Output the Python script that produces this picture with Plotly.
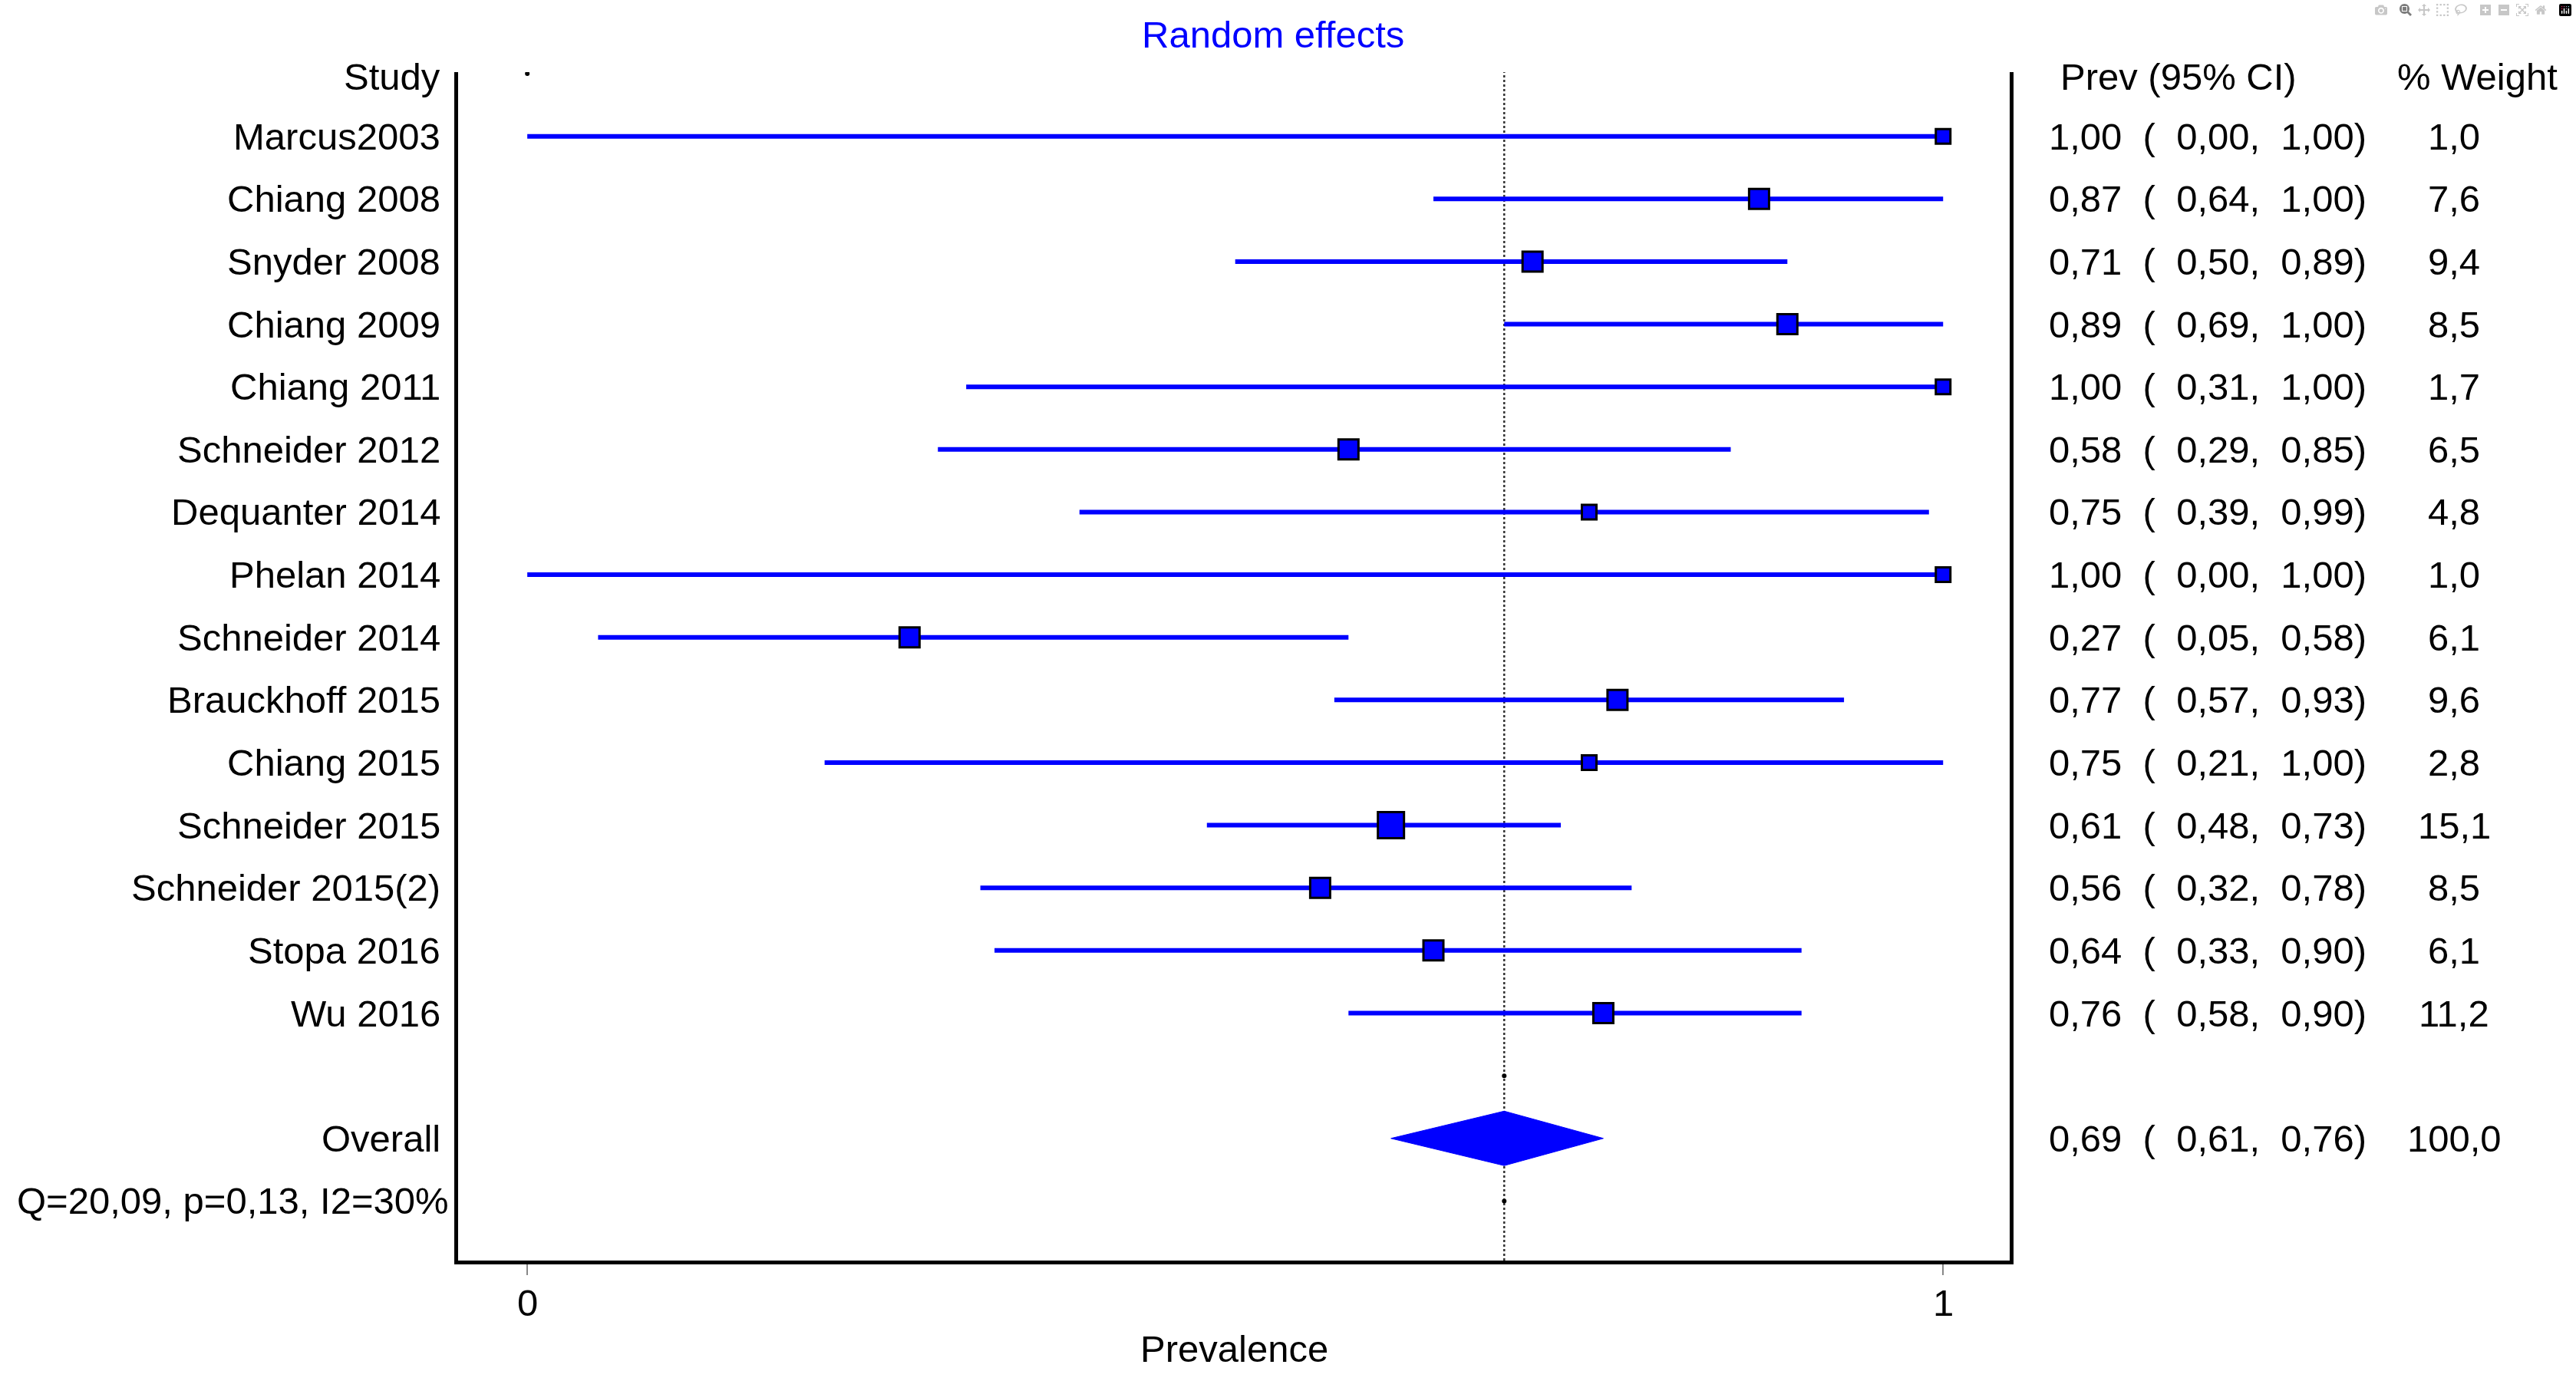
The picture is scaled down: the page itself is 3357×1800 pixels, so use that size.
import plotly.graph_objects as go

# ---------------- data ----------------
studies = ["Marcus2003", "Chiang 2008", "Snyder 2008", "Chiang 2009", "Chiang 2011",
           "Schneider 2012", "Dequanter 2014", "Phelan 2014", "Schneider 2014",
           "Brauckhoff 2015", "Chiang 2015", "Schneider 2015", "Schneider 2015(2)",
           "Stopa 2016", "Wu 2016"]
prev = [1.00, 0.87, 0.71, 0.89, 1.00, 0.58, 0.75, 1.00, 0.27, 0.77, 0.75, 0.61, 0.56, 0.64, 0.76]
ci_low = [0.00, 0.64, 0.50, 0.69, 0.31, 0.29, 0.39, 0.00, 0.05, 0.57, 0.21, 0.48, 0.32, 0.33, 0.58]
ci_high = [1.00, 1.00, 0.89, 1.00, 1.00, 0.85, 0.99, 1.00, 0.58, 0.93, 1.00, 0.73, 0.78, 0.90, 0.90]
weight = [1.0, 7.6, 9.4, 8.5, 1.7, 6.5, 4.8, 1.0, 6.1, 9.6, 2.8, 15.1, 8.5, 6.1, 11.2]

overall_prev = 0.69
overall_low = 0.61
overall_high = 0.76
overall_weight = 100.0
heterogeneity = "Q=20,09, p=0,13, I2=30%"

x_ticks = [0, 1]
x_tick_labels = ["0", "1"]

title_text = "Random effects"
x_title = "Prevalence"
col_study = "Study"
col_prev = "Prev (95% CI)"
col_weight = "% Weight"
overall_label = "Overall"

# ---------------- layout helpers ----------------
W, H = 3357, 1800
L, R, T, B = 596.5, 2619.5, 94, 1643.5      # plot area in pixels
BLUE = "#0000FF"
FONT = "Liberation Sans, Arial, sans-serif"
FS = 49
NB = "\u00a0"

rows = list(range(1, len(studies) + 1))
overall_row = len(studies) + 2
het_row = overall_row + 1
header_row = 0.05


def fmt(v, d=2):
    return f"{v:.{d}f}".replace(".", ",")


def px_x(x):
    return (x - L) / (R - L)


def px_y(y):
    return (B - y) / (B - T)


def msize(w):
    if w < 5:
        return 19
    if w < 13:
        return 26
    return 34


fig = go.Figure()

# CI lines
lx, ly = [], []
for r, lo, hi in zip(rows, ci_low, ci_high):
    lx += [lo, hi, None]
    ly += [r, r, None]
fig.add_trace(go.Scatter(x=lx, y=ly, mode="lines",
                         line=dict(color=BLUE, width=6), hoverinfo="skip"))

# point estimates
fig.add_trace(go.Scatter(x=prev, y=rows, mode="markers",
                         marker=dict(symbol="square", color=BLUE, opacity=1,
                                     size=[msize(w) for w in weight],
                                     line=dict(color="black", width=3)),
                         hoverinfo="skip"))

# overall diamond
dh = 0.435
fig.add_trace(go.Scatter(
    x=[overall_low, overall_prev, overall_high, overall_prev, overall_low],
    y=[overall_row, overall_row - dh, overall_row, overall_row + dh, overall_row],
    mode="lines", fill="toself", fillcolor=BLUE,
    line=dict(color=BLUE, width=1), hoverinfo="skip"))

# small dots (empty rows)
fig.add_trace(go.Scatter(x=[0, overall_prev, overall_prev], y=[0, overall_row - 1, het_row],
                         mode="markers", marker=dict(color="black", size=6, opacity=1),
                         hoverinfo="skip"))

# dotted reference line at overall estimate
fig.add_shape(type="line", x0=overall_prev, x1=overall_prev, xref="x",
              y0=0, y1=1, yref="paper", layer="below",
              line=dict(color="#333333", width=2.5, dash="dot"))

ann = []
# left column
left_x = px_x(575)
ann.append(dict(text=col_study, x=left_x, y=header_row))
for r, s in zip(rows, studies):
    ann.append(dict(text=s, x=left_x, y=r))
ann.append(dict(text=overall_label, x=left_x, y=overall_row))
ann.append(dict(text=heterogeneity, x=px_x(586), y=het_row))
for a in ann:
    a.update(xref="paper", yref="y", xanchor="right", yanchor="middle",
             showarrow=False, font=dict(family=FONT, size=FS, color="black"))

right = []
prev_x = px_x(2669)
wt_x = px_x(3199)
right.append(dict(text=col_prev, x=px_x(2684), y=header_row, xanchor="left"))
right.append(dict(text=col_weight, x=px_x(3123), y=header_row, xanchor="left"))
for r, p, lo, hi, w in zip(rows, prev, ci_low, ci_high, weight):
    s = f"{fmt(p)}{NB*2}({NB*2}{fmt(lo)},{NB*2}{fmt(hi)})"
    right.append(dict(text=s, x=prev_x, y=r, xanchor="left"))
    right.append(dict(text=fmt(w, 1), x=wt_x, y=r, xanchor="center"))
s = f"{fmt(overall_prev)}{NB*2}({NB*2}{fmt(overall_low)},{NB*2}{fmt(overall_high)})"
right.append(dict(text=s, x=prev_x, y=overall_row, xanchor="left"))
right.append(dict(text=fmt(overall_weight, 1), x=wt_x, y=overall_row, xanchor="center"))
for a in right:
    a.update(xref="paper", yref="y", yanchor="middle", showarrow=False,
             font=dict(family=FONT, size=FS, color="black"))
ann += right

# x tick labels
for v, t in zip(x_ticks, x_tick_labels):
    ann.append(dict(text=t, x=v, y=px_y(1699), xref="x", yref="paper",
                    xanchor="center", yanchor="middle", showarrow=False,
                    font=dict(family=FONT, size=FS, color="black")))

# title and x-axis title
ann.append(dict(text=title_text, x=px_x(1659), y=px_y(45), xref="paper", yref="paper",
                xanchor="center", yanchor="middle", showarrow=False,
                font=dict(family=FONT, size=FS, color=BLUE)))
ann.append(dict(text=x_title, x=0.5, y=px_y(1759), xref="paper", yref="paper",
                xanchor="center", yanchor="middle", showarrow=False,
                font=dict(family=FONT, size=FS, color="black")))

# x-range so that 0 and 1 land at the reference pixel positions
x0_px, x1_px = 686.7, 2532.7
unit = x1_px - x0_px
x_range = [(L - x0_px) / unit, (R - x0_px) / unit]
row_px = 81.66
row0_px = 96
y_range = [(B - row0_px) / row_px, (T - row0_px) / row_px]

fig.update_layout(
    width=W, height=H,
    margin=dict(l=L, r=W - R, t=T, b=H - B, pad=0),
    paper_bgcolor="white", plot_bgcolor="white",
    showlegend=False,
    annotations=ann,
    font=dict(family=FONT, size=FS, color="black"),
    xaxis=dict(range=x_range, tickvals=x_ticks, ticktext=x_tick_labels,
               showticklabels=False,
               showgrid=False, zeroline=False, showline=True, linecolor="black",
               linewidth=5, mirror=False, ticks="outside", ticklen=14,
               tickcolor="#888888", tickwidth=2),
    yaxis=dict(range=y_range, showgrid=False, zeroline=False, showline=True,
               linecolor="black", linewidth=5, mirror=True, showticklabels=False,
               ticks=""),
)

fig.write_html("out.html", post_script="document.body.style.margin='0';")
